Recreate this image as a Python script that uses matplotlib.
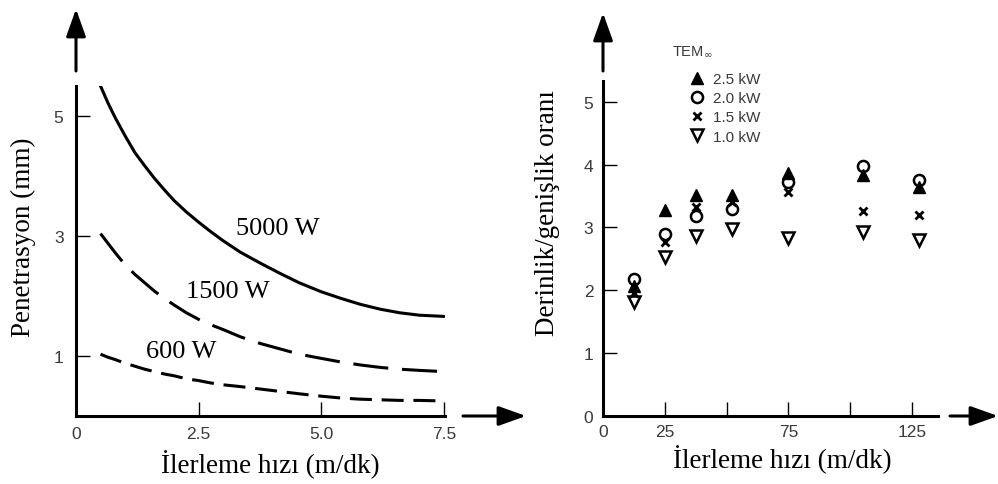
import numpy as np
import matplotlib.pyplot as plt
from matplotlib.patches import FancyArrowPatch
from matplotlib.lines import Line2D

W, H = 998, 485

# left panel: penetration vs feed rate
speed = [0.5, 0.65, 0.8, 1.0, 1.2, 1.4, 1.6, 1.8, 2.0, 2.25, 2.5, 2.75,
         3.0, 3.35, 3.75, 4.15, 4.55, 5.0, 5.4, 5.8, 6.2, 6.6, 7.0, 7.5]
p5000 = [5.50, 5.22, 4.97, 4.67, 4.39, 4.17, 3.96, 3.77, 3.59, 3.40, 3.23, 3.07,
         2.92, 2.73, 2.55, 2.38, 2.22, 2.07, 1.96, 1.86, 1.78, 1.72, 1.68, 1.66]
p1500 = [3.04, 2.88, 2.72, 2.52, 2.36, 2.22, 2.08, 1.96, 1.85, 1.72, 1.61, 1.52,
         1.44, 1.32, 1.21, 1.12, 1.03, 0.96, 0.90, 0.85, 0.81, 0.78, 0.76, 0.74]
p600 = [1.03, 0.98, 0.94, 0.88, 0.83, 0.78, 0.74, 0.70, 0.67, 0.62, 0.59, 0.55,
        0.52, 0.49, 0.45, 0.41, 0.37, 0.33, 0.30, 0.28, 0.27, 0.26, 0.26, 0.25]

# right panel: depth/width ratio
feed = [12.5, 25, 37.5, 52, 75, 105, 128]
r25 = [2.07, 3.27, 3.51, 3.52, 3.86, 3.84, 3.65]
r20 = [2.18, 2.90, 3.18, 3.29, 3.73, 3.97, 3.76]
r15 = [1.95, 2.77, 3.32, 3.41, 3.57, 3.26, 3.20]
r10 = [1.82, 2.53, 2.86, 2.97, 2.84, 2.93, 2.80]

serif = ['Liberation Serif', 'DejaVu Serif']
sans = ['Liberation Sans', 'DejaVu Sans']
tick_col = '#3a3a3a'


def fx(x):
    return x / W


def fy(y):
    return 1 - y / H


fig = plt.figure(figsize=(W / 100, H / 100), dpi=100)

ax1 = fig.add_axes([fx(76), fy(417), 369 / W, 330 / H])
ax2 = fig.add_axes([fx(603), fy(417), 335 / W, 335 / H])

for ax in (ax1, ax2):
    for s in ('top', 'right'):
        ax.spines[s].set_visible(False)
    for s in ('left', 'bottom'):
        ax.spines[s].set_linewidth(2.2)
        ax.spines[s].set_color('black')
    ax.patch.set_alpha(0)

# ---- left
ax1.plot(speed, p5000, color='black', lw=2.2, solid_capstyle='round')
ax1.plot(speed, p1500, color='black', lw=2.2, dashes=(11.5, 4.5))
ax1.plot(speed, p600, color='black', lw=2.2, dashes=(7.2, 3.2))
ax1.set_xlim(0, 7.52)
ax1.set_ylim(0, 5.5)
ax1.set_xticks([0, 2.5, 5.0, 7.5])
ax1.set_xticklabels(['0', '2.5', '5.0', '7.5'])
ax1.set_yticks([1, 3, 5])
ax1.tick_params(axis='y', direction='in', length=10, width=1, pad=9,
                labelsize=12.5, labelcolor=tick_col)
ax1.tick_params(axis='x', direction='in', length=10, width=1, pad=7,
                labelsize=12.5, labelcolor=tick_col)
for lab in ax1.get_xticklabels() + ax1.get_yticklabels():
    lab.set_family(sans)

ax1.text(4.12, 3.13, '5000 W', fontsize=19, family=serif, ha='center', va='center')
ax1.text(3.10, 2.09, '1500 W', fontsize=19, family=serif, ha='center', va='center')
ax1.text(2.15, 1.09, '600 W', fontsize=19, family=serif, ha='center', va='center')

fig.text(fx(23), fy(237), 'Penetrasyon (mm)', rotation=90, fontsize=19.5,
         family=serif, ha='center', va='center')
fig.text(fx(270), fy(465), 'İlerleme hızı (m/dk)', fontsize=19.5,
         family=serif, ha='center', va='center')

# ---- right
ax2.plot(feed, r25, ls='none', marker='^', ms=9, color='black')
ax2.plot(feed, r20, ls='none', marker='o', ms=8, mfc='none', mec='black', mew=1.8)
ax2.plot(feed, r15, ls='none', marker='x', ms=6, color='black', mew=2)
ax2.plot(feed, r10, ls='none', marker='v', ms=9, mfc='none', mec='black', mew=1.8)
ax2.set_xlim(0, 135.5)
ax2.set_ylim(0, 5.33)
ax2.set_xticks([0, 25, 50, 75, 100, 125])
ax2.set_xticklabels(['0', '25', '', '75', '', '125'])
ax2.set_yticks([0, 1, 2, 3, 4, 5])
ax2.tick_params(axis='y', direction='in', length=10, width=1, pad=7,
                labelsize=12.5, labelcolor=tick_col)
ax2.tick_params(axis='x', direction='in', length=10, width=1, pad=6,
                labelsize=12.5, labelcolor=tick_col)
for lab in ax2.get_xticklabels() + ax2.get_yticklabels():
    lab.set_family(sans)

handles = [
    Line2D([], [], ls='none', marker='^', ms=9, color='black'),
    Line2D([], [], ls='none', marker='o', ms=8, mfc='none', mec='black', mew=1.8),
    Line2D([], [], ls='none', marker='x', ms=6, color='black', mew=2),
    Line2D([], [], ls='none', marker='v', ms=9, mfc='none', mec='black', mew=1.8),
]
leg = ax2.legend(handles, ['2.5 kW', '2.0 kW', '1.5 kW', '1.0 kW'],
                 loc='upper left', bbox_to_anchor=(fx(689), fy(73)),
                 bbox_transform=fig.transFigure, frameon=False,
                 prop={'family': sans, 'size': 11}, handlelength=1.1,
                 handletextpad=0.45, labelspacing=0.34, borderpad=0,
                 borderaxespad=0)
for t in leg.get_texts():
    t.set_color(tick_col)
fig.text(fx(672), fy(52), r'TEM$_{\infty}$', fontsize=10.5, family=sans,
         color=tick_col, ha='left', va='center')

fig.text(fx(548), fy(213), 'Derinlik/genişlik oranı', rotation=90, fontsize=19.5,
         family=serif, ha='center', va='center')
fig.text(fx(782), fy(460), 'İlerleme hızı (m/dk)', fontsize=19.5,
         family=serif, ha='center', va='center')


# ---- axis arrows
def arrow(x0, y0, x1, y1):
    a = FancyArrowPatch((fx(x0), fy(y0)), (fx(x1), fy(y1)),
                        transform=fig.transFigure,
                        arrowstyle='-|>,head_length=0.42,head_width=0.15',
                        mutation_scale=40, lw=2.2, color='black',
                        shrinkA=0, shrinkB=0)
    fig.add_artist(a)


arrow(76, 72, 76, 10)
arrow(463, 417, 526, 417)
arrow(603, 72, 603, 14)
arrow(950, 417, 998, 417)

fig.savefig('out.png', dpi=100)
